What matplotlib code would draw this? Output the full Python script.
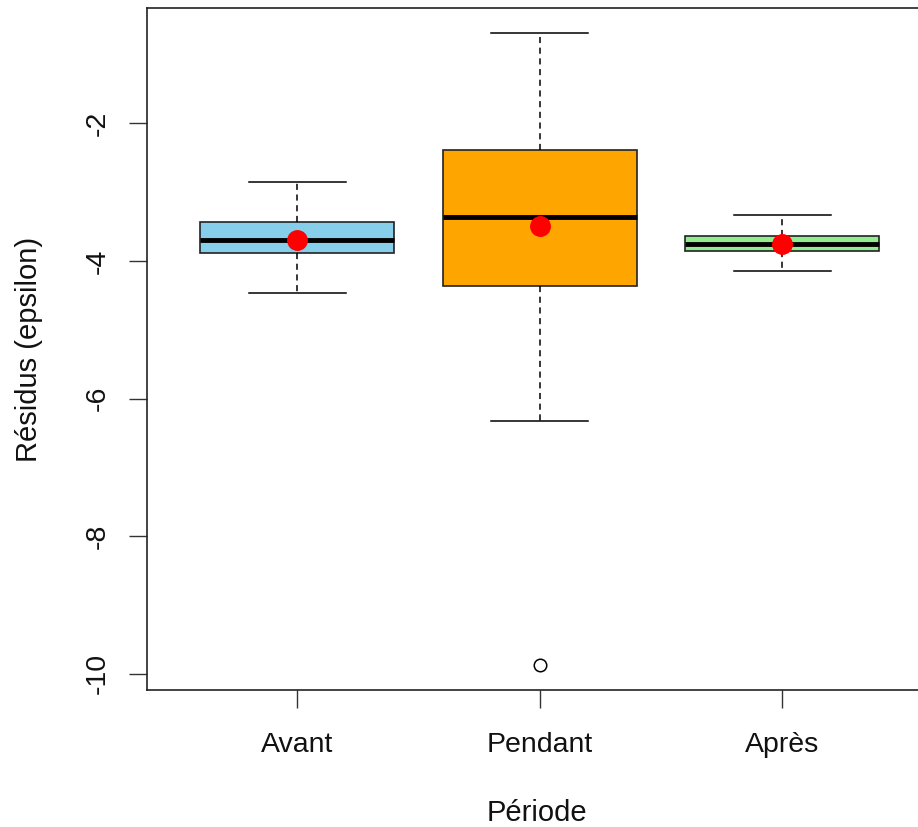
import matplotlib
matplotlib.use("Agg")
import matplotlib.pyplot as plt

# Valeurs (boxplot R)
periodes = ["Avant", "Pendant", "Après"]
couleurs = ["#87CEEB", "#FFA500", "#90EE90"]
whislo = [-4.467, -6.328, -4.152]
q1 = [-3.884, -4.356, -3.861]
med = [-3.700, -3.355, -3.753]
q3 = [-3.432, -2.379, -3.642]
whishi = [-2.855, -0.689, -3.326]
moyennes = [-3.700, -3.486, -3.749]
outliers = [[], [-9.869], []]
yticks = [-2, -4, -6, -8, -10]

plt.rcParams['font.family'] = ['Liberation Sans', 'DejaVu Sans']
plt.rcParams['axes.unicode_minus'] = False

fig = plt.figure(figsize=(9.18, 8.27), dpi=100)
ax = fig.add_axes([0.1601, 0.1657, 0.856, 0.8246])

stats = []
for i in range(3):
    stats.append(dict(label=periodes[i], whislo=whislo[i], q1=q1[i], med=med[i],
                      q3=q3[i], whishi=whishi[i], fliers=outliers[i]))

pos = [1, 2, 3]
bp = ax.bxp(stats, positions=pos, widths=0.8, patch_artist=True,
            showfliers=True, manage_ticks=False,
            boxprops=dict(edgecolor="#222222", linewidth=1.2),
            medianprops=dict(color="black", linewidth=3.5, solid_capstyle="butt"),
            whiskerprops=dict(color="black", linewidth=1.1, linestyle=(0, (4, 3))),
            capprops=dict(color="black", linewidth=1.1),
            capwidths=0.4,
            flierprops=dict(marker="o", markerfacecolor="none", markeredgecolor="black",
                            markersize=9, markeredgewidth=1.1))
for patch, c in zip(bp["boxes"], couleurs):
    patch.set_facecolor(c)

ax.plot(pos, moyennes, linestyle="none", marker="o", color="red", markersize=14, zorder=5)

ax.set_xlim(0.38, 3.62)
ax.set_ylim(-10.236, -0.322)
ax.set_xticks(pos)
ax.set_xticklabels(periodes)
ax.set_yticks(yticks)
ax.set_yticklabels([str(t) for t in yticks], rotation=90, va="center")

ax.tick_params(axis="both", length=13, width=1, color="#333333", labelsize=20.5,
               labelcolor="#111111")
ax.tick_params(axis="y", pad=13)
ax.tick_params(axis="x", pad=17)
for s in ax.spines.values():
    s.set_color("#222222")
    s.set_linewidth(1.2)

# titres des axes
fig.text(537 / 918, 6 / 827, "Période", fontsize=21, ha="center", va="baseline",
         color="#111111")
fig.text(29 / 918, 1 - 349.5 / 827, "Résidus (epsilon)", fontsize=21, rotation=90,
         ha="center", va="center", color="#111111")

fig.savefig("out.png", dpi=100)
